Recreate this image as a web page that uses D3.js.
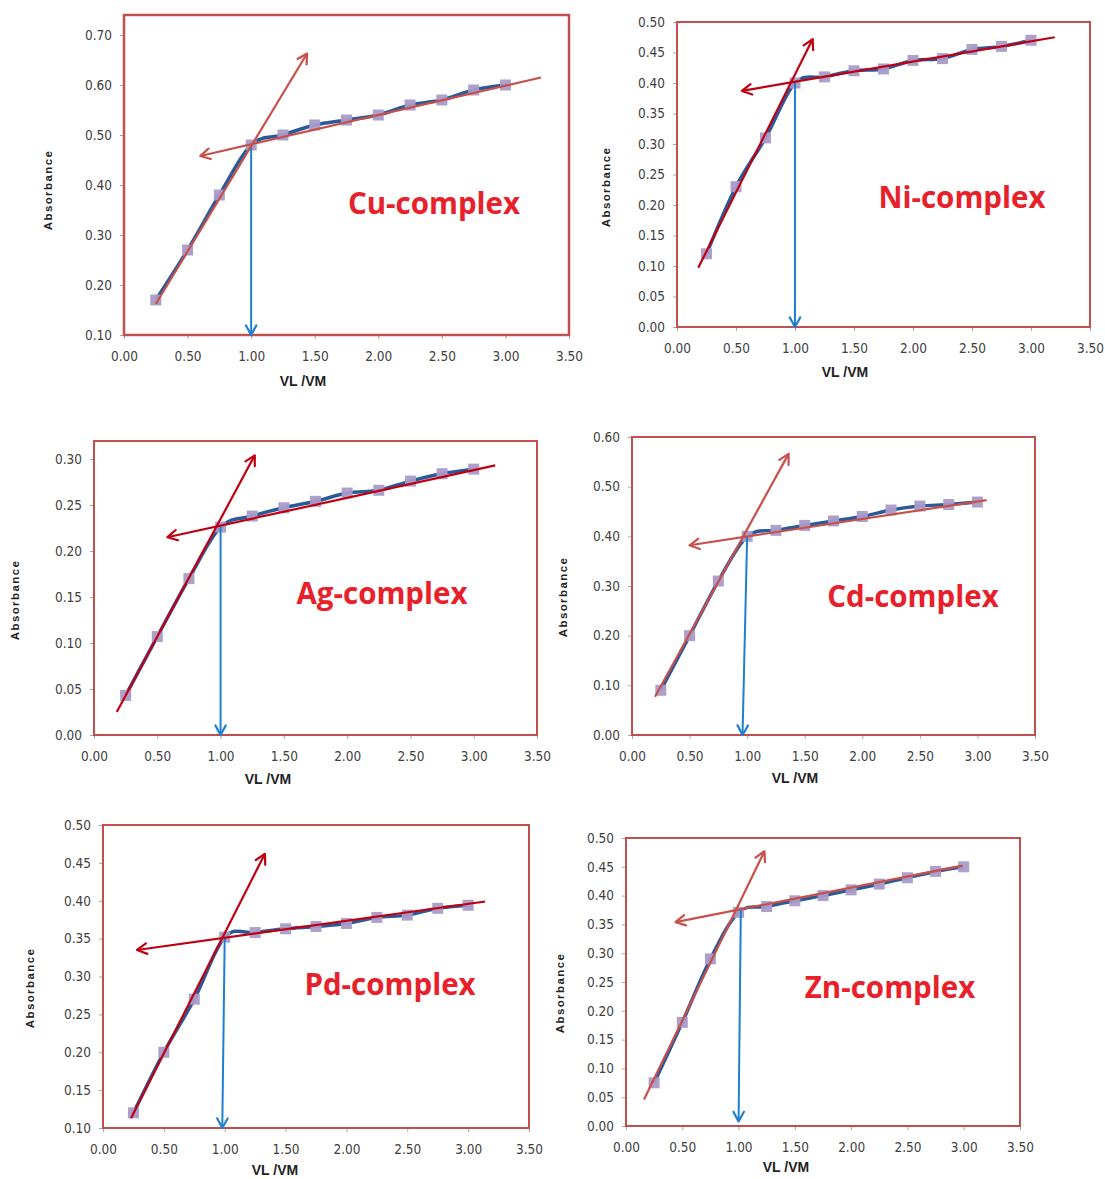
<!DOCTYPE html>
<html>
<head>
<meta charset="utf-8">
<script src="https://cdn.jsdelivr.net/npm/d3@7"></script>
<style>
  body { margin: 0; background: #fff; }
  svg { display: block; }
  .tick text { font-family: "Liberation Sans Narrow", "DejaVu Sans Condensed", sans-serif; font-size: 13.5px; fill: #404040; }
  .ttl { font-family: "Liberation Sans", Arial, sans-serif; font-weight: bold; fill: #222; }
  .name { font-family: "Open Sans", "Noto Sans", sans-serif; font-weight: bold; font-size: 29.5px; fill: #e8202a; }
</style>
</head>
<body>
<svg id="chart" width="1105" height="1179"></svg>
<script>
(function() {
    'use strict';

    // VL/VM ratios (same for every complex)
    const ratios = [0.25, 0.50, 0.75, 1.00, 1.25, 1.50, 1.75, 2.00, 2.25, 2.50, 2.75, 3.00];
    const xTicks = [0, 0.5, 1, 1.5, 2, 2.5, 3, 3.5];

    // absorbance readings
    const cuAbs = [0.17, 0.27, 0.38, 0.48, 0.50, 0.52, 0.53, 0.54, 0.56, 0.57, 0.59, 0.60];
    const niAbs = [0.12, 0.23, 0.31, 0.40, 0.41, 0.42, 0.423, 0.437, 0.44, 0.455, 0.46, 0.47];
    const agAbs = [0.043, 0.107, 0.170, 0.226, 0.238, 0.247, 0.254, 0.263, 0.266, 0.276, 0.284, 0.289];
    const cdAbs = [0.09, 0.20, 0.31, 0.40, 0.412, 0.422, 0.431, 0.44, 0.453, 0.461, 0.464, 0.469];
    const pdAbs = [0.12, 0.20, 0.27, 0.352, 0.358, 0.363, 0.366, 0.370, 0.378, 0.381, 0.390, 0.394];
    const znAbs = [0.075, 0.18, 0.29, 0.371, 0.381, 0.391, 0.40, 0.41, 0.42, 0.431, 0.442, 0.45];

    // tangent lines: [start, arrow head] in data units
    const cuSteep = [[0.25, 0.162], [1.44, 0.663]];
    const cuFlat  = [[3.28, 0.615], [0.60, 0.458]];
    const niSteep = [[0.18, 0.097], [1.15, 0.472]];
    const niFlat  = [[3.20, 0.475], [0.55, 0.387]];
    const agSteep = [[0.18, 0.025], [1.27, 0.304]];
    const agFlat  = [[3.17, 0.293], [0.58, 0.215]];
    const cdSteep = [[0.20, 0.077], [1.36, 0.566]];
    const cdFlat  = [[3.08, 0.473], [0.50, 0.382]];
    const pdSteep = [[0.23, 0.113], [1.33, 0.462]];
    const pdFlat  = [[3.14, 0.399], [0.28, 0.335]];
    const znSteep = [[0.16, 0.046], [1.23, 0.477]];
    const znFlat  = [[2.99, 0.452], [0.44, 0.354]];

    // vertical drop arrows: [top, bottom]
    const cuDrop = [[1.00, 0.48], [1.00, 0.10]];
    const niDrop = [[1.00, 0.40], [1.00, 0.00]];
    const agDrop = [[1.00, 0.226], [1.00, 0.00]];
    const cdDrop = [[1.00, 0.40], [0.96, 0.00]];
    const pdDrop = [[1.00, 0.352], [0.98, 0.10]];
    const znDrop = [[1.02, 0.375], [1.00, 0.008]];

    const yTicksCu = d3.range(0.10, 0.701, 0.10);
    const yTicksNi = d3.range(0, 0.501, 0.05);
    const yTicksAg = d3.range(0, 0.301, 0.05);
    const yTicksCd = d3.range(0, 0.601, 0.10);
    const yTicksPd = d3.range(0.10, 0.501, 0.05);
    const yTicksZn = d3.range(0, 0.501, 0.05);

    const lightRed = "#c8504a";
    const darkRed = "#c00010";

    const panels = [
        { name: "Cu-complex", abs: cuAbs, steep: cuSteep, flat: cuFlat, drop: cuDrop, yTicks: yTicksCu, yDom: [0.10, 0.70],
          x0: 124, x1: 569, yb: 335, yt: 35, boxTop: 15, lc: lightRed, bw: 2.5,
          yLab: [48, 190], xLab: [303, 386], nameAt: [434, 214] },
        { name: "Ni-complex", abs: niAbs, steep: niSteep, flat: niFlat, drop: niDrop, yTicks: yTicksNi, yDom: [0, 0.50],
          x0: 677, x1: 1090, yb: 327, yt: 22, boxTop: 22, lc: darkRed, bw: 2,
          yLab: [606, 187], xLab: [845, 377], nameAt: [962, 208] },
        { name: "Ag-complex", abs: agAbs, steep: agSteep, flat: agFlat, drop: agDrop, yTicks: yTicksAg, yDom: [0, 0.30],
          x0: 94, x1: 537, yb: 735, yt: 459, boxTop: 441, lc: darkRed, bw: 2,
          yLab: [15, 600], xLab: [268, 784], nameAt: [382, 604] },
        { name: "Cd-complex", abs: cdAbs, steep: cdSteep, flat: cdFlat, drop: cdDrop, yTicks: yTicksCd, yDom: [0, 0.60],
          x0: 632, x1: 1035, yb: 735, yt: 437, boxTop: 437, lc: lightRed, bw: 2,
          yLab: [563, 597], xLab: [795, 783], nameAt: [913, 607] },
        { name: "Pd-complex", abs: pdAbs, steep: pdSteep, flat: pdFlat, drop: pdDrop, yTicks: yTicksPd, yDom: [0.10, 0.50],
          x0: 103, x1: 529, yb: 1128, yt: 825, boxTop: 825, lc: darkRed, bw: 2,
          yLab: [30, 988], xLab: [275, 1175], nameAt: [390, 995] },
        { name: "Zn-complex", abs: znAbs, steep: znSteep, flat: znFlat, drop: znDrop, yTicks: yTicksZn, yDom: [0, 0.50],
          x0: 626, x1: 1020, yb: 1126, yt: 838, boxTop: 838, lc: lightRed, bw: 2,
          yLab: [560, 993], xLab: [786, 1172], nameAt: [890, 998] }
    ];

    const svg = d3.select("#chart");

    // arrow head drawn as an open "V" at point b, coming from a
    function arrowHead(g, a, b, color) {
        const ang = Math.atan2(b[1] - a[1], b[0] - a[0]);
        const len = 11, spread = 0.5;
        const p1 = [b[0] - len * Math.cos(ang - spread), b[1] - len * Math.sin(ang - spread)];
        const p2 = [b[0] - len * Math.cos(ang + spread), b[1] - len * Math.sin(ang + spread)];
        g.append("path")
            .attr("d", `M${p1[0]},${p1[1]}L${b[0]},${b[1]}L${p2[0]},${p2[1]}`)
            .attr("fill", "none")
            .attr("stroke", color)
            .attr("stroke-width", 2.2)
            .attr("stroke-linecap", "round")
            .attr("stroke-linejoin", "round");
    }

    function drawPanel(p) {
        const g = svg.append("g");

        const x = d3.scaleLinear().domain([0, 3.5]).range([p.x0, p.x1]);
        const y = d3.scaleLinear().domain(p.yDom).range([p.yb, p.yt]);

        // Y AXIS
        g.append("g")
            .attr("transform", `translate(${p.x0},0)`)
            .call(d3.axisLeft(y).tickValues(p.yTicks).tickFormat(d3.format(".2f")).tickSize(4).tickPadding(8))
            .call(a => a.select(".domain").attr("stroke", "#bfbfbf"))
            .call(a => a.selectAll("line").attr("stroke", "#a6a6a6"));

        // X AXIS
        g.append("g")
            .attr("transform", `translate(0,${p.yb})`)
            .call(d3.axisBottom(x).tickValues(xTicks).tickFormat(d3.format(".2f")).tickSize(4).tickPadding(12))
            .call(a => a.select(".domain").attr("stroke", "#bfbfbf"))
            .call(a => a.selectAll("line").attr("stroke", "#a6a6a6"));

        // plot frame
        g.append("rect")
            .attr("x", p.x0)
            .attr("y", p.boxTop)
            .attr("width", p.x1 - p.x0)
            .attr("height", p.yb - p.boxTop)
            .attr("fill", "none")
            .attr("stroke", "#c0504d")
            .attr("stroke-width", p.bw);

        // data line (smoothed like excel)
        const pts = ratios.map((r, i) => [r, p.abs[i]]);
        const line = d3.line().x(d => x(d[0])).y(d => y(d[1])).curve(d3.curveCardinal.tension(0));
        g.append("path")
            .attr("d", line(pts))
            .attr("fill", "none")
            .attr("stroke", "#2b5a98")
            .attr("stroke-width", 3.5);

        // markers
        g.append("g")
            .selectAll("rect")
            .data(pts)
            .join("rect")
            .attr("x", d => x(d[0]) - 5.5)
            .attr("y", d => y(d[1]) - 5.5)
            .attr("width", 11)
            .attr("height", 11)
            .attr("fill", "#a99cc9")
            .attr("opacity", 0.95);

        // blue drop arrow
        const dA = [x(p.drop[0][0]), y(p.drop[0][1])];
        const dB = [x(p.drop[1][0]), y(p.drop[1][1])];
        g.append("line")
            .attr("x1", dA[0]).attr("y1", dA[1])
            .attr("x2", dB[0]).attr("y2", dB[1])
            .attr("stroke", "#1f7fd0")
            .attr("stroke-width", 2);
        arrowHead(g, dA, dB, "#1f7fd0");

        // tangent lines
        [p.steep, p.flat].forEach(seg => {
            const a = [x(seg[0][0]), y(seg[0][1])];
            const b = [x(seg[1][0]), y(seg[1][1])];
            g.append("line")
                .attr("x1", a[0]).attr("y1", a[1])
                .attr("x2", b[0]).attr("y2", b[1])
                .attr("stroke", p.lc)
                .attr("stroke-width", 2.2);
            arrowHead(g, a, b, p.lc);
        });

        // titles
        g.append("text")
            .attr("class", "ttl")
            .attr("transform", `translate(${p.yLab[0]},${p.yLab[1]}) rotate(-90)`)
            .attr("text-anchor", "middle")
            .attr("dy", "0.35em")
            .attr("font-size", "11.5px")
            .attr("letter-spacing", "1.4px")
            .text("Absorbance");

        g.append("text")
            .attr("class", "ttl")
            .attr("x", p.xLab[0])
            .attr("y", p.xLab[1])
            .attr("text-anchor", "middle")
            .attr("font-size", "14px")
            .attr("font-family", "'Liberation Sans Narrow', 'DejaVu Sans Condensed', sans-serif")
            .text("VL /VM");

        g.append("text")
            .attr("class", "name")
            .attr("x", p.nameAt[0])
            .attr("y", p.nameAt[1])
            .attr("text-anchor", "middle")
            .text(p.name);
    }

    panels.forEach(drawPanel);
})();
</script>
</body>
</html>
